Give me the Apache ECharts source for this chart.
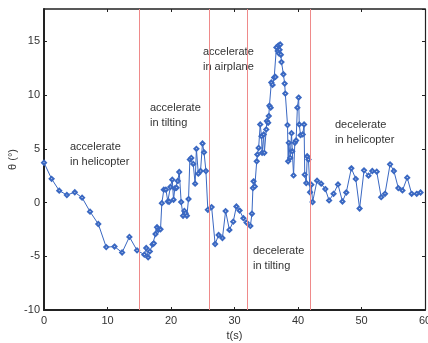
<!DOCTYPE html>
<html>
<head>
<meta charset="utf-8">
<script src="https://cdn.jsdelivr.net/npm/echarts@6/dist/echarts.min.js"></script>
<style>html,body{margin:0;padding:0;background:#fff;}#c{width:428px;height:343px;}</style>
</head>
<body>
<div id="c"></div>
<script>
// time (s)
var tValues = [
 0, 1.2, 2.4, 3.6, 4.85, 6.0, 7.25, 8.55, 9.8, 11.1, 12.3, 13.45, 14.65, 15.8,
 16.1, 16.4, 16.67, 17.1, 17.3, 17.56, 17.8, 18.0, 18.35, 18.56, 18.87, 19.2, 19.5, 19.7,
 19.9, 20.2, 20.4, 20.6, 20.87, 21.07, 21.3, 21.6, 21.9, 22.1, 22.3, 22.5, 22.76, 22.97,
 23.2, 23.5, 23.8, 24.0, 24.3, 24.65, 24.96, 25.2, 25.5, 25.8, 26.4,
 26.95, 27.5, 28.1, 28.6, 29.2, 29.8, 30.3, 30.8, 31.4, 31.9, 32.5, 32.75, 32.9,
 33.0, 33.2, 33.5, 33.6, 33.8, 34.05, 34.25, 34.35, 34.6, 34.7, 35.0, 35.1, 35.3, 35.4,
 35.5, 35.7, 35.8, 36.0, 36.25, 36.45, 36.6, 36.8, 36.9, 37.0, 37.1, 37.2, 37.3, 37.4,
 37.7, 37.9, 38.0, 38.35, 38.45, 38.55, 38.77, 38.98, 39.1, 39.3, 39.5, 39.7, 39.9, 40.1,
 40.2, 40.4, 40.75, 40.96, 41.06, 41.3, 41.45, 41.65, 41.9, 42.1, 42.3,
 43.0, 43.65, 44.3, 44.9, 45.6, 46.3, 47.0, 47.6, 48.4, 49.1, 49.7, 50.4, 51.1, 51.7,
 52.4, 53.1, 53.7, 54.5, 55.1, 55.8, 56.45, 57.2, 57.9, 58.7, 59.3
];
// theta (deg)
var thetaValues = [
 3.7, 2.2, 1.1, 0.7, 0.95, 0.45, -0.85, -2.0, -4.15, -4.1, -4.65, -3.2, -4.45, -4.85,
 -4.23, -5.1, -4.55, -3.9, -3.8, -2.93, -2.3, -2.55, -2.49, -0.06, 1.19, 1.19, 0.1, 0.07,
 1.44, 2.12, 0.25, 1.31, 1.37, 2.0, 2.84, 0.04, -1.24, -0.78, -0.99, -1.24, 0.32, 3.99,
 4.15, 3.59, 1.75, 4.99, 2.68, 2.93, 5.49, 4.67, 2.93, -0.68, -0.43,
 -3.86, -3.02, -3.3, -0.8, -2.55, -1.78, -0.37, -0.75, -1.46, -1.87, -2.18, -1.05, 1.34,
 1.97, 1.5, 3.83, 4.46, 5.08, 7.26, 6.17, 4.62, 6.33, 4.62, 6.8, 7.57, 7.42, 8.04,
 9.0, 8.82, 11.16, 10.94, 11.63, 11.68, 14.43, 14.1, 14.6, 13.87, 14.2, 14.7, 13.74, 13.06,
 11.93, 11.06, 10.13, 7.2, 3.83, 5.55, 4.15, 6.45, 4.77, 2.52, 5.55, 5.77, 8.82, 9.76,
 7.26, 6.26, 6.33, 7.26, 2.59, 1.81, 4.3, 4.0, 0.95, 1.65, 0.05,
 2.03, 1.75, 1.25, 0.19, 0.81, 1.68, 0.09, 0.93, 3.18, 2.19, -0.56, 2.99, 2.5, 2.93,
 2.87, 0.5, 0.81, 3.55, 2.93, 1.34, 1.12, 2.31, 0.81, 0.81, 0.93
];
// phase boundaries (s)
var boundaries = [15, 26, 32, 42];
// phase annotations
var phaseLabels = [
 'accelerate\nin helicopter',
 'accelerate\nin tilting',
 'accelerate\nin airplane',
 'decelerate\nin tilting',
 'decelerate\nin helicopter'
];
var xTickMin = 0, xTickMax = 60, xTickStep = 10;
var yTickMin = -10, yTickMax = 18, yTickStep = 5;

var labelPos = [[70, 139], [150, 100], [203, 44], [253, 243], [335, 117]];

var chart = echarts.init(document.getElementById('c'), null, {renderer: 'canvas'});
var font = 'Arial, "Liberation Sans", sans-serif';
var pts = tValues.map(function (t, i) { return [t, thetaValues[i]]; });

function xAx(pos, showLabel, lw) {
  return {
    type: 'value', position: pos, min: xTickMin, max: xTickMax, interval: xTickStep,
    axisLine: {show: true, onZero: false, lineStyle: {color: '#222', width: lw}},
    axisTick: {show: true, inside: true, length: 3, lineStyle: {color: '#222', width: 1}},
    axisLabel: {show: showLabel, color: '#333', fontSize: 11, fontFamily: font, margin: 5},
    splitLine: {show: false},
    name: showLabel ? 't(s)' : '', nameLocation: 'middle', nameGap: 19,
    nameTextStyle: {color: '#333', fontSize: 11, fontFamily: font}
  };
}
function yAx(pos, showLabel, lw) {
  return {
    type: 'value', position: pos, min: yTickMin, max: yTickMax, interval: yTickStep,
    axisLine: {show: true, onZero: false, lineStyle: {color: '#222', width: lw}},
    axisTick: {show: true, inside: true, length: 3, lineStyle: {color: '#222', width: 1}},
    axisLabel: {show: showLabel, color: '#333', fontSize: 11, fontFamily: font, margin: 4, showMaxLabel: false},
    splitLine: {show: false},
    name: showLabel ? 'θ (°)' : '', nameLocation: 'middle', nameGap: 26, nameMoveOverlap: false,
    nameTextStyle: {color: '#333', fontSize: 11, fontFamily: font}
  };
}

chart.setOption({
  animation: false,
  backgroundColor: '#fff',
  grid: {left: 44, right: 3, top: 9, bottom: 33, containLabel: false, outerBoundsMode: 'none'},
  xAxis: [xAx('bottom', true, 2), xAx('top', false, 1.5)],
  yAxis: [yAx('left', true, 2), yAx('right', false, 1.2)],
  graphic: phaseLabels.map(function (s, i) {
    return {
      type: 'text', left: labelPos[i][0], top: labelPos[i][1], silent: true,
      style: {text: s, fill: '#333', font: '11px ' + font, lineHeight: 15}
    };
  }),
  series: [{
    type: 'line',
    data: pts,
    xAxisIndex: 0, yAxisIndex: 0,
    symbol: 'emptyDiamond',
    symbolSize: 4,
    showAllSymbol: true,
    lineStyle: {color: '#3a68c2', width: 1},
    itemStyle: {color: '#3a68c2', borderWidth: 1},
    markLine: {
      silent: true, symbol: ['none', 'none'],
      label: {show: false},
      lineStyle: {color: '#ef8a8a', width: 1, type: 'solid'},
      data: boundaries.map(function (b) { return {xAxis: b}; })
    },
    z: 3
  }]
});
</script>
</body>
</html>
